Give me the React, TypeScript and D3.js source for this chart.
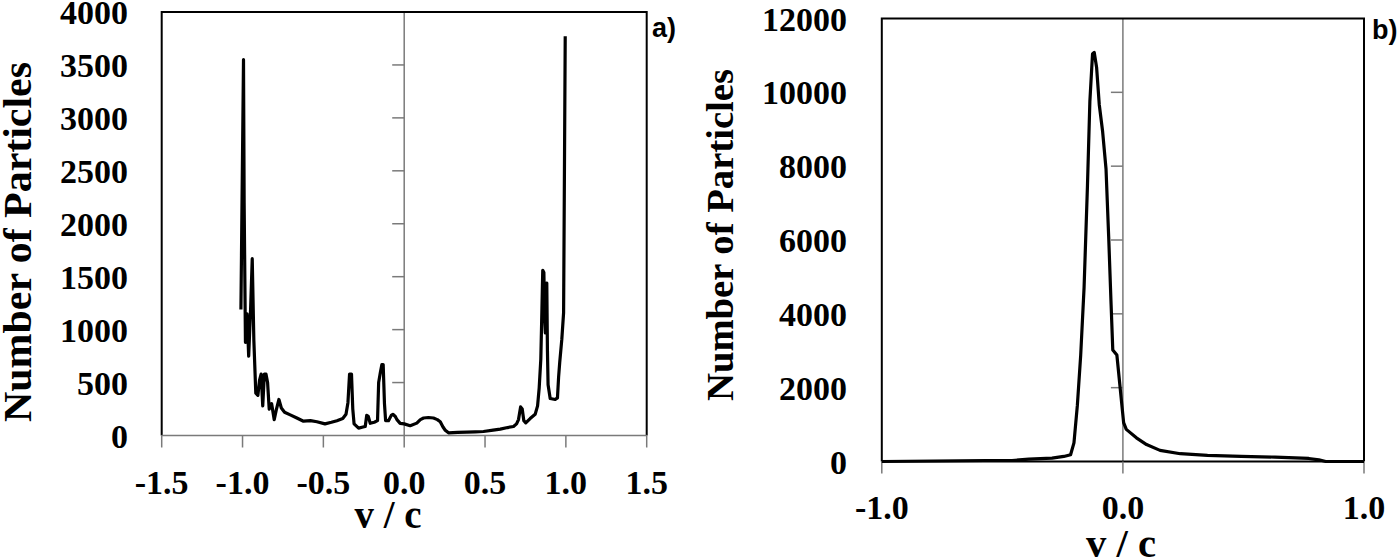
import React from "react";
import * as d3 from "d3";

// ---------- Panel a data ----------
const velA = [-1.01, -0.994, -0.99, -0.982, -0.972, -0.962, -0.95, -0.94, -0.93, -0.918, -0.905, -0.895, -0.885, -0.875, -0.865, -0.855, -0.845, -0.835, -0.82, -0.804, -0.79, -0.775, -0.76, -0.74, -0.705, -0.664, -0.623, -0.58, -0.54, -0.49, -0.45, -0.416, -0.38, -0.36, -0.348, -0.338, -0.326, -0.318, -0.31, -0.282, -0.255, -0.241, -0.232, -0.222, -0.21, -0.185, -0.165, -0.158, -0.147, -0.138, -0.13, -0.122, -0.115, -0.097, -0.08, -0.07, -0.055, -0.045, -0.025, 0, 0.037, 0.078, 0.1, 0.12, 0.15, 0.181, 0.205, 0.223, 0.24, 0.254, 0.274, 0.33, 0.388, 0.44, 0.49, 0.55, 0.594, 0.64, 0.676, 0.695, 0.707, 0.72, 0.73, 0.74, 0.752, 0.779, 0.81, 0.825, 0.835, 0.845, 0.852, 0.857, 0.864, 0.869, 0.873, 0.878, 0.882, 0.886, 0.89, 0.903, 0.934, 0.948, 0.955, 0.962, 0.975, 0.986, 0.99, 0.996];
const countA = [1190, 3550, 2200, 880, 1150, 750, 1200, 1670, 900, 400, 380, 520, 580, 280, 580, 580, 500, 250, 300, 150, 250, 340, 260, 220, 195, 165, 135, 140, 130, 110, 125, 140, 160, 200, 310, 580, 580, 250, 110, 70, 80, 85, 190, 180, 115, 125, 140, 500, 600, 670, 670, 300, 140, 140, 190, 200, 180, 150, 115, 110, 92, 117, 150, 165, 170, 165, 150, 130, 80, 50, 25, 30, 32, 35, 38, 50, 60, 75, 85, 110, 150, 270, 250, 140, 120, 160, 200, 280, 450, 720, 1200, 1560, 1540, 1100, 970, 1400, 1440, 800, 480, 350, 340, 355, 550, 690, 910, 1160, 2200, 3770];
const xTicksA = [-1.5, -1.0, -0.5, 0.0, 0.5, 1.0, 1.5];
const yTicksA = [0, 500, 1000, 1500, 2000, 2500, 3000, 3500, 4000];

// ---------- Panel b data ----------
const velB = [-1.0, -0.573, -0.46, -0.39, -0.294, -0.245, -0.217, -0.203, -0.189, -0.175, -0.161, -0.147, -0.137, -0.126, -0.119, -0.109, -0.098, -0.084, -0.07, -0.059, -0.049, -0.042, -0.025, -0.011, 0.003, 0.014, 0.056, 0.098, 0.154, 0.238, 0.351, 0.491, 0.631, 0.771, 0.813, 0.841, 1.0];
const countB = [0, 27, 27, 64, 92, 137, 183, 504, 1511, 2885, 4717, 7465, 9755, 11038, 11083, 10671, 9664, 8931, 7923, 6091, 4259, 3023, 2885, 1969, 1053, 870, 641, 458, 302, 211, 165, 137, 119, 82, 46, 0, 0];
const xTicksB = [-1.0, 0.0, 1.0];
const yTicksB = [0, 2000, 4000, 6000, 8000, 10000, 12000];

const SERIF = "'Liberation Serif', 'Times New Roman', serif";
const SANS = "'Liberation Sans', Arial, sans-serif";
const GRAY = "#7a7a7a";

type PanelProps = {
  vel: number[];
  count: number[];
  xTicks: number[];
  yTicks: number[];
  xDomain: [number, number];
  yDomain: [number, number];
  left: number; right: number; top: number; bottom: number;
  tag: string; tagX: number; tagY: number;
  yLabelRight: number;
  xLabelBase: number;
  titleX: number; titleBase: number; titleLen: number;
  yTitleX: number; yTitleY: number; yTitleLen: number; yTitleSize: number;
  blackBottom: boolean;
  innerYTicks: number[];
};

function Panel(p: PanelProps) {
  const x = d3.scaleLinear().domain(p.xDomain).range([p.left, p.right]);
  const y = d3.scaleLinear().domain(p.yDomain).range([p.bottom, p.top]);
  const line = d3.line<number>()
    .x((_, i) => x(p.vel[i]))
    .y((d) => y(d))
    .curve(d3.curveLinear);
  const x0 = x(0);
  return (
    <g>
      {/* zero line */}
      <line x1={x0} x2={x0} y1={p.top} y2={p.bottom} stroke={GRAY} strokeWidth={1.5} />
      {p.innerYTicks.map((t) => (
        <line key={"iy" + t} x1={x0 - 12} x2={x0} y1={y(t)} y2={y(t)} stroke={GRAY} strokeWidth={1.5} />
      ))}
      {/* box */}
      <path
        d={`M${p.left},${p.bottom} L${p.left},${p.top} L${p.right},${p.top} L${p.right},${p.bottom}`}
        fill="none" stroke="#000" strokeWidth={2} />
      <line x1={p.left} x2={p.right} y1={p.bottom} y2={p.bottom}
        stroke={p.blackBottom ? "#000" : GRAY} strokeWidth={p.blackBottom ? 2 : 1.5} />
      {p.xTicks.map((t) => (
        <line key={"xt" + t} x1={x(t)} x2={x(t)} y1={p.bottom} y2={p.bottom + 12} stroke={GRAY} strokeWidth={1.5} />
      ))}
      {/* data */}
      <path d={line(p.count) || ""} fill="none" stroke="#000" strokeWidth={3.2} strokeLinejoin="round" />
      {/* x tick labels */}
      {p.xTicks.map((t) => (
        <text key={"xl" + t} x={x(t)} y={p.xLabelBase} textAnchor="middle"
          fontFamily={SERIF} fontWeight="bold" fontSize={34} fill="#000">
          {t.toFixed(1)}
        </text>
      ))}
      {/* y tick labels */}
      {p.yTicks.map((t) => (
        <text key={"yl" + t} x={p.yLabelRight} y={y(t) + 12} textAnchor="end"
          fontFamily={SERIF} fontWeight="bold" fontSize={34} fill="#000">
          {String(t)}
        </text>
      ))}
      {/* axis titles */}
      <text x={p.titleX} y={p.titleBase} textAnchor="middle" fontFamily={SERIF}
        fontWeight="bold" fontSize={40} fill="#000" textLength={p.titleLen} lengthAdjust="spacingAndGlyphs">
        v / c
      </text>
      <text transform={`translate(${p.yTitleX},${p.yTitleY}) rotate(-90)`} textAnchor="middle"
        fontFamily={SERIF} fontWeight="bold" fontSize={p.yTitleSize} fill="#000"
        textLength={p.yTitleLen} lengthAdjust="spacingAndGlyphs">
        Number of Particles
      </text>
      <text x={p.tagX} y={p.tagY} fontFamily={SANS} fontWeight="bold" fontSize={27} fill="#000">
        {p.tag}
      </text>
    </g>
  );
}

export default function App() {
  return (
    <svg width={1400} height={559} style={{ position: "absolute", left: 0, top: 0, background: "#fff" }}>
      <rect x={0} y={0} width={1400} height={559} fill="#fff" />
      <Panel
        vel={velA} count={countA} xTicks={xTicksA} yTicks={yTicksA}
        xDomain={[-1.5, 1.5]} yDomain={[0, 4000]}
        left={161.7} right={646.7} top={12} bottom={435.5}
        tag="a)" tagX={652} tagY={37}
        yLabelRight={128} xLabelBase={494}
        titleX={388} titleBase={528} titleLen={67}
        yTitleX={31} yTitleY={242} yTitleLen={360} yTitleSize={41}
        blackBottom={false}
        innerYTicks={[500, 1000, 1500, 2000, 2500, 3000, 3500]}
      />
      <Panel
        vel={velB} count={countB} xTicks={xTicksB} yTicks={yTicksB}
        xDomain={[-1, 1]} yDomain={[0, 12000]}
        left={881.8} right={1364} top={18.5} bottom={461.5}
        tag="b)" tagX={1372} tagY={39}
        yLabelRight={847} xLabelBase={519}
        titleX={1121} titleBase={557} titleLen={70}
        yTitleX={733} yTitleY={235} yTitleLen={332} yTitleSize={38}
        blackBottom={true}
        innerYTicks={[2000, 4000, 6000, 8000, 10000]}
      />
    </svg>
  );
}
